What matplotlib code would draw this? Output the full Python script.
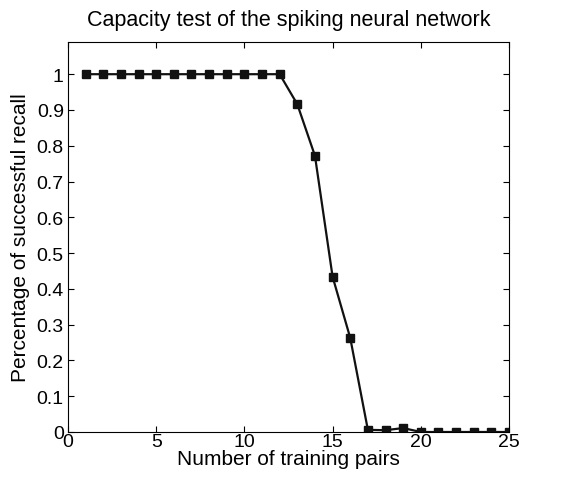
import matplotlib
matplotlib.use("Agg")
import matplotlib.pyplot as plt

plt.rcParams['font.family'] = ['Liberation Sans', 'DejaVu Sans']

pairs = list(range(1, 26))
recall = [1, 1, 1, 1, 1, 1, 1, 1, 1, 1, 1, 1,
          0.916, 0.772, 0.434, 0.263, 0.006, 0.005, 0.011,
          0, 0, 0, 0, 0, 0]
xticks = [0, 5, 10, 15, 20, 25]
yticks = [0, 0.1, 0.2, 0.3, 0.4, 0.5, 0.6, 0.7, 0.8, 0.9, 1]
ytick_labels = ['0', '0.1', '0.2', '0.3', '0.4', '0.5', '0.6', '0.7', '0.8', '0.9', '1']

fig = plt.figure(figsize=(5.79, 4.81), dpi=100)
ax = fig.add_axes([0.1174, 0.0998, 0.7617, 0.8108])
ax.plot(pairs, recall, color='#111111', linewidth=1.6, marker='s',
        markersize=6.3, markerfacecolor='#111111', markeredgecolor='#111111')
ax.set_xlim(0, 25)
ax.set_ylim(0, 1.09)
ax.set_xticks(xticks)
ax.set_xticklabels([str(t) for t in xticks])
ax.set_yticks(yticks)
ax.set_yticklabels(ytick_labels)
ax.tick_params(direction='in', top=True, right=True, labelsize=14, length=4, pad=3)
ax.tick_params(axis='x', pad=1)
for s in ax.spines.values():
    s.set_linewidth(0.8)
ax.set_xlabel('Number of training pairs', fontsize=15, labelpad=-1)
ax.set_ylabel('Percentage of successful recall', fontsize=15, labelpad=5)
ax.set_title('Capacity test of the spiking neural network', fontsize=15.5, pad=12)
fig.savefig('out.png', dpi=100)
